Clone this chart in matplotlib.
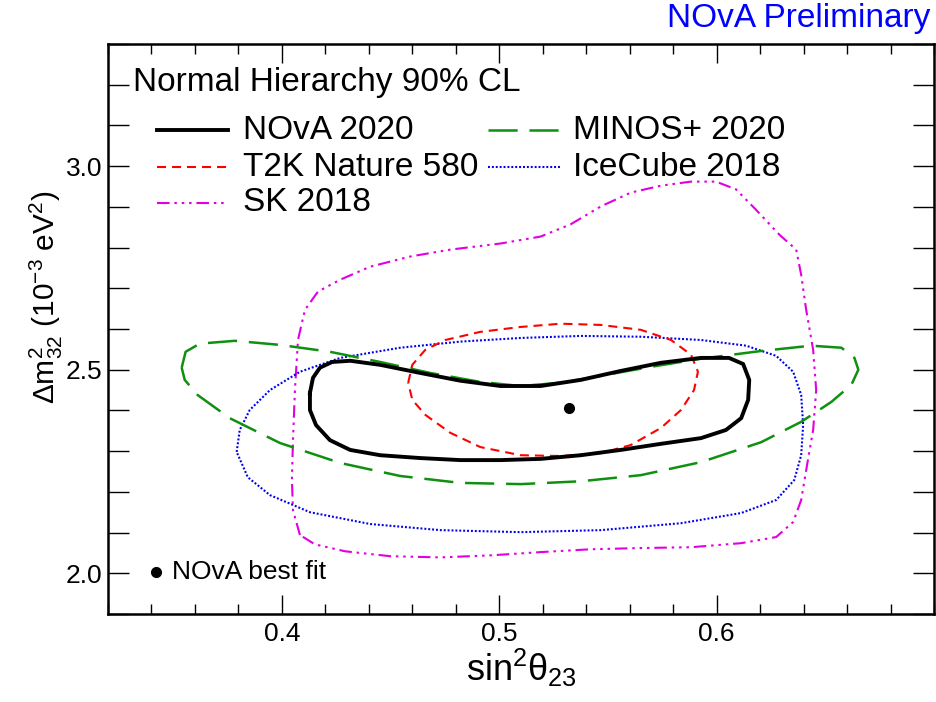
import matplotlib
matplotlib.use("Agg")
from matplotlib import pyplot as plt
from matplotlib.ticker import MultipleLocator, FixedLocator

plt.rcParams['font.family'] = ['Liberation Sans', 'DejaVu Sans']
plt.rcParams['mathtext.fontset'] = 'custom'
plt.rcParams['mathtext.rm'] = 'Liberation Sans'
plt.rcParams['mathtext.it'] = 'Liberation Sans'
plt.rcParams['mathtext.bf'] = 'Liberation Sans:bold'
plt.rcParams['lines.scale_dashes'] = False

# 90% CL contours, normal hierarchy (sin^2 theta23, dm^2_32 in 1e-3 eV^2)
nova_s = [0.4129, 0.4143, 0.4175, 0.4231, 0.4314, 0.4452, 0.4637, 0.4821, 0.5006, 0.5190,
          0.5375, 0.5559, 0.5744, 0.5928, 0.6057, 0.6122, 0.6150, 0.6145, 0.6113, 0.6043,
          0.5928, 0.5744, 0.5559, 0.5375, 0.5190, 0.5006, 0.4821, 0.4637, 0.4452, 0.4314,
          0.4221, 0.4157, 0.4129, 0.4129]
nova_m = [2.443, 2.480, 2.505, 2.519, 2.522, 2.512, 2.492, 2.473, 2.460, 2.460,
          2.475, 2.497, 2.517, 2.529, 2.529, 2.514, 2.475, 2.426, 2.381, 2.352,
          2.332, 2.318, 2.303, 2.290, 2.281, 2.278, 2.278, 2.283, 2.290, 2.303,
          2.327, 2.364, 2.401, 2.443]

t2k_s = [0.4581, 0.4600, 0.4660, 0.4752, 0.4913, 0.5098, 0.5282, 0.5467, 0.5651, 0.5790,
         0.5882, 0.5914, 0.5896, 0.5836, 0.5744, 0.5605, 0.5467, 0.5282, 0.5098, 0.4913,
         0.4775, 0.4660, 0.4600, 0.4581]
t2k_m = [2.468, 2.512, 2.549, 2.573, 2.593, 2.605, 2.613, 2.610, 2.598, 2.573,
         2.537, 2.495, 2.450, 2.401, 2.357, 2.315, 2.295, 2.288, 2.290, 2.310,
         2.345, 2.389, 2.426, 2.468]

sk_s = [0.4083, 0.4051, 0.4046, 0.4051, 0.4060, 0.4074, 0.4106, 0.4166, 0.4268, 0.4406,
        0.4590, 0.4775, 0.5006, 0.5190, 0.5328, 0.5467, 0.5605, 0.5744, 0.5882, 0.5997,
        0.6089, 0.6181, 0.6288, 0.6366, 0.6389, 0.6412, 0.6444, 0.6458, 0.6444, 0.6416,
        0.6389, 0.6352, 0.6274, 0.6113, 0.5882, 0.5651, 0.5421, 0.5190, 0.4959, 0.4729,
        0.4498, 0.4291, 0.4152, 0.4083]
sk_m = [2.094, 2.155, 2.229, 2.327, 2.450, 2.573, 2.647, 2.692, 2.721, 2.753,
        2.778, 2.795, 2.810, 2.827, 2.857, 2.901, 2.935, 2.952, 2.962, 2.962,
        2.943, 2.893, 2.832, 2.795, 2.733, 2.647, 2.549, 2.450, 2.352, 2.266,
        2.180, 2.126, 2.089, 2.074, 2.064, 2.062, 2.059, 2.052, 2.044, 2.039,
        2.042, 2.054, 2.071, 2.094]

minos_s = [0.3539, 0.3557, 0.3622, 0.3783, 0.3991, 0.4221, 0.4452, 0.4683, 0.4913, 0.5098,
           0.5282, 0.5467, 0.5697, 0.5928, 0.6205, 0.6435, 0.6574, 0.6634, 0.6652, 0.6620,
           0.6528, 0.6389, 0.6205, 0.5928, 0.5651, 0.5375, 0.5098, 0.4821, 0.4544, 0.4268,
           0.3991, 0.3760, 0.3612, 0.3553, 0.3539]
minos_m = [2.505, 2.544, 2.564, 2.571, 2.561, 2.544, 2.519, 2.492, 2.470, 2.460,
           2.468, 2.485, 2.507, 2.527, 2.546, 2.559, 2.554, 2.529, 2.500, 2.463,
           2.421, 2.372, 2.322, 2.273, 2.241, 2.226, 2.219, 2.222, 2.239, 2.271,
           2.320, 2.381, 2.438, 2.475, 2.505]

ice_s = [0.3792, 0.3806, 0.3852, 0.3945, 0.4083, 0.4268, 0.4544, 0.4821, 0.5098, 0.5375,
         0.5651, 0.5928, 0.6136, 0.6274, 0.6352, 0.6389, 0.6398, 0.6389, 0.6357, 0.6274,
         0.6113, 0.5836, 0.5467, 0.5098, 0.4729, 0.4406, 0.4129, 0.3945, 0.3843, 0.3792]
ice_m = [2.298, 2.352, 2.401, 2.450, 2.495, 2.529, 2.554, 2.569, 2.578, 2.583,
         2.581, 2.573, 2.559, 2.534, 2.495, 2.438, 2.364, 2.290, 2.229, 2.180,
         2.148, 2.123, 2.106, 2.101, 2.106, 2.121, 2.150, 2.192, 2.236, 2.298]

best_s = [0.532]
best_m = [2.406]

x_ticks = [0.4, 0.5, 0.6]
y_ticks = [2.0, 2.5, 3.0]

fig = plt.figure(figsize=(9.36, 7.02), dpi=100)
ax = fig.add_axes([108/936, 1-614/702, 826/936, 570/702])

styles = {
    'NOvA 2020': dict(color='black', lw=2.8, ls='-'),
    'T2K Nature 580': dict(color='#ff0000', lw=1.5, ls=(0, (6.5, 4.3))),
    'SK 2018': dict(color='#e000e0', lw=1.5, ls=(0, (9, 3.5, 1.8, 3.5, 1.8, 3.5, 1.8, 3.5))),
    'MINOS+ 2020': dict(color='#109010', lw=1.8, ls=(0, (21, 8.5))),
    'IceCube 2018': dict(color='#0000ee', lw=1.5, ls=(0, (1.4, 1.4))),
}

ax.plot(sk_s, sk_m, **styles['SK 2018'])
ax.plot(ice_s, ice_m, **styles['IceCube 2018'])
ax.plot(minos_s, minos_m, **styles['MINOS+ 2020'])
ax.plot(t2k_s, t2k_m, **styles['T2K Nature 580'])
ax.plot(nova_s, nova_m, **styles['NOvA 2020'])
ax.plot(best_s, best_m, 'o', color='black', ms=7)

ax.set_xlim(0.32, 0.70)
ax.set_ylim(1.9, 3.3)
ax.xaxis.set_major_locator(FixedLocator(x_ticks))
ax.xaxis.set_minor_locator(MultipleLocator(0.02))
ax.yaxis.set_major_locator(FixedLocator(y_ticks))
ax.yaxis.set_minor_locator(MultipleLocator(0.1))
ax.xaxis.set_major_formatter(plt.FuncFormatter(lambda v, p: '%.1f' % v))
ax.yaxis.set_major_formatter(plt.FuncFormatter(lambda v, p: '%.1f' % v))
ax.tick_params(which='both', direction='in', top=True, right=True, width=1.0,
               labelsize=19)
ax.tick_params(axis='x', which='major', length=14, pad=6)
ax.tick_params(axis='x', which='minor', length=7)
ax.tick_params(axis='y', which='both', length=15, pad=4)
for s in ax.spines.values():
    s.set_linewidth(1.8)

ax.set_xlabel(r'sin$^{2}\theta_{23}$', fontsize=26)
ax.xaxis.set_label_coords(0.5, -0.058)
ax.set_ylabel(r'$\Delta$m$^{2}_{32}$ (10$^{-3}$ eV$^{2}$)', fontsize=21.5)
ax.yaxis.set_label_coords(-0.052, 0.555)

# legend drawn by hand, ROOT style
ax.text(0.0303, 0.9316, 'Normal Hierarchy 90% CL', transform=ax.transAxes,
        fontsize=24, va='center', ha='left')
entries = [('NOvA 2020', 0, 0), ('T2K Nature 580', 0, 1), ('SK 2018', 0, 2),
           ('MINOS+ 2020', 1, 0), ('IceCube 2018', 1, 1)]
col_line = [(0.0593, 0.1453), (0.4600, 0.5472)]
col_text = [0.1634, 0.5630]
row_y = [0.8491, 0.7842, 0.7211]
for name, c, r in entries:
    ax.plot(col_line[c], [row_y[r], row_y[r]], transform=ax.transAxes, **styles[name])
    ax.text(col_text[c], row_y[r], name, transform=ax.transAxes, fontsize=24,
            va='center', ha='left')

ax.plot([0.0581], [0.0737], 'o', color='black', ms=7, transform=ax.transAxes)
ax.text(0.0775, 0.0737, 'NOvA best fit', transform=ax.transAxes, fontsize=19,
        va='center', ha='left')

fig.text(0.9936, 0.974, 'NOvA Preliminary', color='#0000ff', fontsize=24,
         ha='right', va='center')

fig.savefig('out.png', dpi=100)
